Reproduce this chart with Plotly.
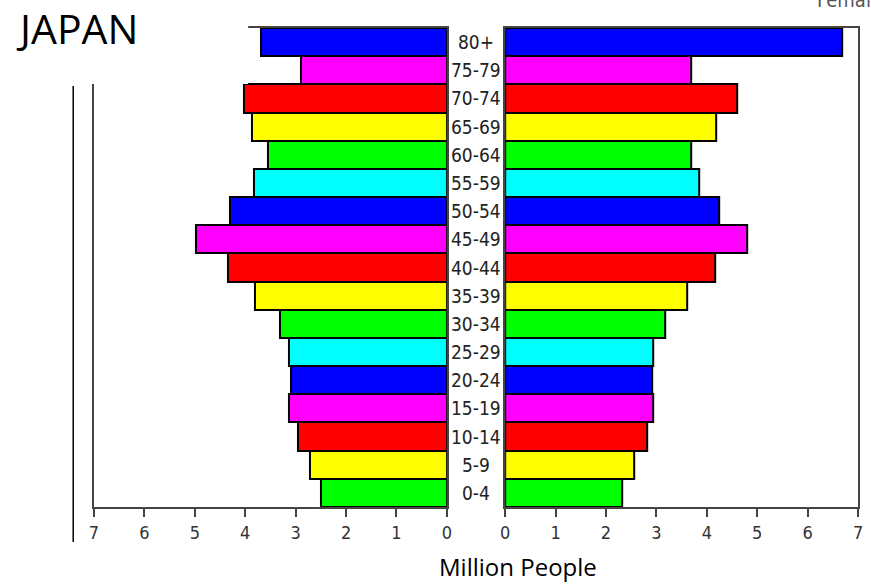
import plotly.graph_objects as go

ages = ["0-4", "5-9", "10-14", "15-19", "20-24", "25-29", "30-34", "35-39", "40-44",
        "45-49", "50-54", "55-59", "60-64", "65-69", "70-74", "75-79", "80+"]
male = [2.49, 2.71, 2.96, 3.14, 3.10, 3.14, 3.31, 3.80, 4.35,
        4.98, 4.31, 3.82, 3.55, 3.86, 4.02, 2.90, 3.69]
female = [2.33, 2.55, 2.82, 2.94, 2.92, 2.94, 3.18, 3.61, 4.16,
          4.80, 4.24, 3.84, 3.69, 4.18, 4.61, 3.69, 6.69]
tick_vals = [0, 1, 2, 3, 4, 5, 6, 7]
tick_text = ["0", "1", "2", "3", "4", "5", "6", "7"]

palette = ["#00FF00", "#FFFF00", "#FF0000", "#FF00FF", "#0000FF", "#00FFFF"]
colors = [palette[i % len(palette)] for i in range(len(ages))]

W, H = 871, 584
def px(x):
    return x / W
def py(y):
    return 1 - y / H

fig = go.Figure()
fig.add_trace(go.Bar(y=ages, x=male, orientation="h", xaxis="x", yaxis="y",
                     marker=dict(color=colors, line=dict(color="black", width=2)),
                     showlegend=False, hoverinfo="x+y"))
fig.add_trace(go.Bar(y=ages, x=female, orientation="h", xaxis="x2", yaxis="y2",
                     marker=dict(color=colors, line=dict(color="black", width=2)),
                     showlegend=False, hoverinfo="x+y"))

cond = "Liberation Sans Narrow, DejaVu Sans Condensed, sans-serif"
tick_font = dict(family=cond, size=18, color="#333333")
frame = "#444444"
common_x = dict(tickvals=tick_vals, ticktext=tick_text, ticks="outside", ticklen=8,
                tickwidth=1.5, tickcolor=frame, showline=True, linecolor=frame, linewidth=2,
                mirror=True, showgrid=False, zeroline=False, tickfont=tick_font, fixedrange=True)
common_y = dict(showline=True, linecolor=frame, linewidth=2, mirror=True, showgrid=False,
                zeroline=False, showticklabels=False, ticks="", categoryorder="array",
                categoryarray=ages, range=[-0.5, len(ages) - 0.5], fixedrange=True)

fig.update_layout(
    width=W, height=H, margin=dict(l=0, r=0, t=0, b=0),
    paper_bgcolor="white", plot_bgcolor="white", bargap=0,
    xaxis=dict(common_x, range=[7, 0], domain=[px(90), px(447)], anchor="y"),
    yaxis=dict(common_y, domain=[py(507), py(28)], anchor="x"),
    xaxis2=dict(common_x, range=[0, 7], domain=[px(506), px(863)], anchor="y2"),
    yaxis2=dict(common_y, domain=[py(507), py(28)], anchor="x2"),
)

shapes = [
    # white box hiding top-left of the left frame (slide text box)
    dict(type="rect", xref="paper", yref="paper", x0=0, x1=px(246), y0=py(84), y1=1,
         fillcolor="white", line=dict(width=0), layer="above"),
    # crop at the bottom of the picture
    dict(type="rect", xref="paper", yref="paper", x0=px(72), x1=1, y0=py(552), y1=py(542),
         fillcolor="white", line=dict(width=0), layer="above"),
    # slide vertical line
    dict(type="line", xref="paper", yref="paper", x0=px(69), x1=px(69), y0=py(86), y1=py(542),
         line=dict(color="black", width=1.5), layer="above"),
]
fig.update_layout(shapes=shapes)

label_font = dict(family=cond, size=19, color="#222222")
annotations = [dict(x=px(476.5), y=a, xref="paper", yref="y", text=a, showarrow=False,
                    font=label_font, xanchor="center", yanchor="middle") for a in ages]
annotations += [
    dict(x=px(9), y=py(28), xref="paper", yref="paper", text="JAPAN", showarrow=False,
         font=dict(family="Open Sans, sans-serif", size=41, color="black"),
         xanchor="left", yanchor="middle"),
    dict(x=px(519), y=py(566), xref="paper", yref="paper", text="Million People", showarrow=False,
         font=dict(family="Open Sans, sans-serif", size=24, color="black"),
         xanchor="center", yanchor="middle"),
    dict(x=px(819), y=py(14), xref="paper", yref="paper", text="Female", showarrow=False,
         font=dict(family=cond, size=20, color="#555555"),
         xanchor="left", yanchor="bottom"),
]
fig.update_layout(annotations=annotations)

fig.write_html("out.html", config={"displayModeBar": False},
               post_script="document.body.style.margin='0px';document.body.style.padding='0px';")
